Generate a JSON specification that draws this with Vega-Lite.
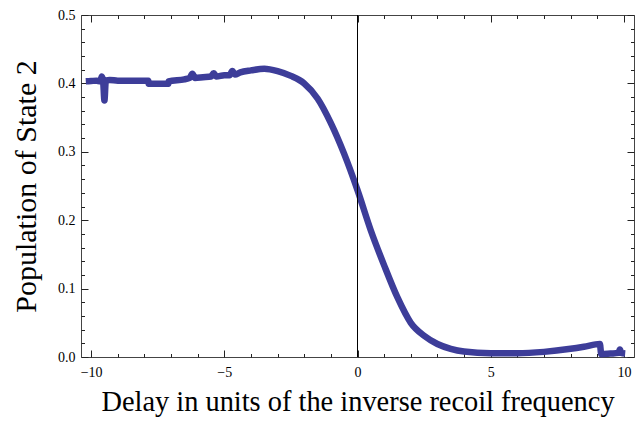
{
  "$schema": "https://vega.github.io/schema/vega-lite/v6.json",
  "width": 553,
  "height": 342,
  "autosize": {"type": "none"},
  "padding": {"left": 81, "top": 15, "right": 6, "bottom": 66},
  "background": "white",
  "config": {
    "view": {"stroke": "#444", "strokeWidth": 1},
    "axis": {
      "grid": false,
      "domain": false,
      "tickColor": "#222",
      "tickWidth": 1,
      "labelFont": "Liberation Serif",
      "labelFontSize": 14,
      "labelColor": "black",
      "titleFont": "Liberation Serif",
      "titleFontSize": 28,
      "titleFontWeight": "normal",
      "titleColor": "black"
    }
  },
  "data": {
    "values": [
      {"x": -10.2, "y": 0.403},
      {"x": -10.0, "y": 0.4035},
      {"x": -9.8, "y": 0.404},
      {"x": -9.65, "y": 0.403},
      {"x": -9.6, "y": 0.41},
      {"x": -9.55, "y": 0.404},
      {"x": -9.5, "y": 0.375},
      {"x": -9.45, "y": 0.404},
      {"x": -9.3, "y": 0.405},
      {"x": -9.0, "y": 0.404},
      {"x": -8.5, "y": 0.404},
      {"x": -7.85, "y": 0.404},
      {"x": -7.84, "y": 0.3995},
      {"x": -7.1, "y": 0.3995},
      {"x": -7.09, "y": 0.403},
      {"x": -6.5, "y": 0.406},
      {"x": -6.3, "y": 0.408},
      {"x": -6.2, "y": 0.414},
      {"x": -6.1, "y": 0.408},
      {"x": -5.8, "y": 0.409},
      {"x": -5.5, "y": 0.41},
      {"x": -5.4, "y": 0.415},
      {"x": -5.3, "y": 0.41},
      {"x": -5.0, "y": 0.412},
      {"x": -4.8, "y": 0.412},
      {"x": -4.7, "y": 0.418},
      {"x": -4.6, "y": 0.413},
      {"x": -4.4, "y": 0.416},
      {"x": -4.0, "y": 0.419},
      {"x": -3.5, "y": 0.4215},
      {"x": -3.0, "y": 0.418},
      {"x": -2.5, "y": 0.411},
      {"x": -2.0, "y": 0.4},
      {"x": -1.5, "y": 0.378},
      {"x": -1.0, "y": 0.342},
      {"x": -0.5, "y": 0.297},
      {"x": 0.0, "y": 0.244},
      {"x": 0.5, "y": 0.185},
      {"x": 1.0, "y": 0.134},
      {"x": 1.5, "y": 0.087},
      {"x": 2.0, "y": 0.05},
      {"x": 2.5, "y": 0.031},
      {"x": 3.0, "y": 0.019},
      {"x": 3.5, "y": 0.012},
      {"x": 4.0, "y": 0.008},
      {"x": 5.0, "y": 0.0055},
      {"x": 6.0, "y": 0.0055},
      {"x": 7.0, "y": 0.0075},
      {"x": 8.0, "y": 0.012},
      {"x": 8.5, "y": 0.015},
      {"x": 9.1, "y": 0.019},
      {"x": 9.15, "y": 0.004},
      {"x": 9.5, "y": 0.005},
      {"x": 9.8, "y": 0.006},
      {"x": 9.85, "y": 0.011},
      {"x": 9.9, "y": 0.006},
      {"x": 10.05, "y": 0.005}
    ]
  },
  "layer": [
    {
      "mark": {"type": "line", "color": "#3d3d99", "strokeWidth": 6.5, "interpolate": "monotone", "strokeJoin": "round", "strokeCap": "butt"},
      "encoding": {
        "x": {"field": "x", "type": "quantitative",
          "scale": {"domain": [-10.38, 10.38], "nice": false, "zero": false},
          "axis": {"orient": "bottom", "values": [-10, -5, 0, 5, 10], "tickSize": -7, "labelPadding": 15, "title": "Delay in units of the inverse recoil frequency", "titlePadding": 9, "titleFontSize": 28.4}},
        "y": {"field": "y", "type": "quantitative",
          "scale": {"domain": [0, 0.5], "nice": false, "zero": false},
          "axis": {"orient": "left", "values": [0, 0.1, 0.2, 0.3, 0.4, 0.5], "format": ".1f", "tickSize": -7, "labelPadding": 13, "title": "Population of State 2", "titlePadding": 16, "titleFontSize": 30}}
      }
    },
    {
      "data": {"values": [{"x": 0, "y": 0}]},
      "mark": {"type": "rule", "color": "black", "strokeWidth": 1},
      "encoding": {
        "x": {"field": "x", "type": "quantitative",
          "axis": {"orient": "top", "values": [-10, -5, 0, 5, 10], "tickSize": -7, "labels": false, "title": null}},
        "y": {"datum": 0, "type": "quantitative",
          "axis": {"orient": "right", "values": [0, 0.1, 0.2, 0.3, 0.4, 0.5], "tickSize": -7, "labels": false, "title": null}},
        "y2": {"datum": 0.5}
      }
    },
    {
      "mark": {"type": "point", "opacity": 0},
      "encoding": {
        "x": {"field": "x", "type": "quantitative",
          "axis": {"orient": "bottom", "values": [-9, -8, -7, -6, -4, -3, -2, -1, 1, 2, 3, 4, 6, 7, 8, 9], "tickSize": -3.5, "labels": false, "title": null}},
        "y": {"field": "y", "type": "quantitative",
          "axis": {"orient": "left", "values": [0.02, 0.04, 0.06, 0.08, 0.12, 0.14, 0.16, 0.18, 0.22, 0.24, 0.26, 0.28, 0.32, 0.34, 0.36, 0.38, 0.42, 0.44, 0.46, 0.48], "tickSize": -3.5, "labels": false, "title": null}}
      }
    },
    {
      "mark": {"type": "point", "opacity": 0},
      "encoding": {
        "x": {"field": "x", "type": "quantitative",
          "axis": {"orient": "top", "values": [-9, -8, -7, -6, -4, -3, -2, -1, 1, 2, 3, 4, 6, 7, 8, 9], "tickSize": -3.5, "labels": false, "title": null}},
        "y": {"field": "y", "type": "quantitative",
          "axis": {"orient": "right", "values": [0.02, 0.04, 0.06, 0.08, 0.12, 0.14, 0.16, 0.18, 0.22, 0.24, 0.26, 0.28, 0.32, 0.34, 0.36, 0.38, 0.42, 0.44, 0.46, 0.48], "tickSize": -3.5, "labels": false, "title": null}}
      }
    }
  ],
  "resolve": {"axis": {"x": "independent", "y": "independent"}}
}
